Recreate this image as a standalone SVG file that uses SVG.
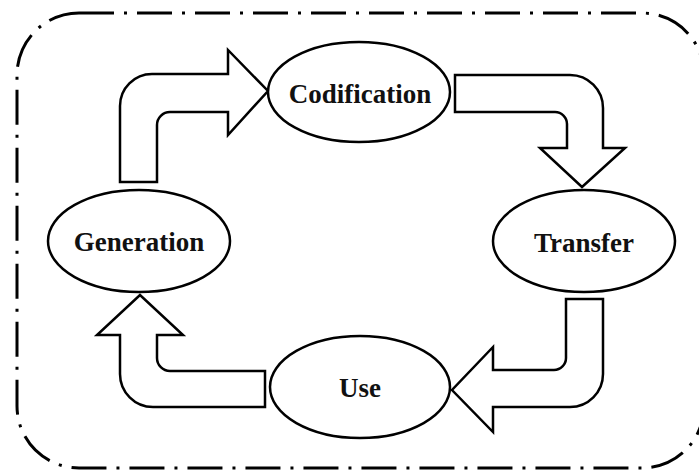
<svg xmlns="http://www.w3.org/2000/svg" width="699" height="471" viewBox="0 0 699 471">
<style>
.node ellipse{fill:#fff;stroke:#000;stroke-width:2.5}
.node text{font-family:"Liberation Serif","Times New Roman",serif;font-weight:bold;font-size:27px;text-anchor:middle;fill:#111}
.conn path{fill:#fff;stroke:#000;stroke-width:2.5;stroke-linejoin:miter}
.frame{fill:none;stroke:#000;stroke-width:3;stroke-dasharray:35 10 3 10}
</style>
<rect width="699" height="471" fill="#fff"/>
<rect class="frame" x="17" y="13" width="687" height="455" rx="62" ry="62"/>
<g class="conn" id="connectors">
<path d="M120,182 L120,106 A32,32 0 0 1 152,74 L228,74 L228,50 L268,91 L228,135 L228,112 L170,112 A13,13 0 0 0 157,125 L157,182 Z"/>
<path d="M455,75 L570,75 A33,33 0 0 1 603,108 L603,148 L625,148 L582,187 L540,148 L567,148 L567,124 A12,12 0 0 0 555,112 L455,112 Z"/>
<path d="M566,299 L603,299 L603,374 A33,33 0 0 1 570,407 L493,407 L493,432 L452,390 L493,347 L493,370 L554,370 A12,12 0 0 0 566,358 Z"/>
<path d="M265,371 L170,371 A13,13 0 0 1 157,358 L157,335 L183,335 L140,295 L97,335 L120,335 L120,374 A33,33 0 0 0 153,407 L265,407 Z"/>
</g>
<g class="node" id="codification"><ellipse cx="359" cy="92" rx="91" ry="50"/><text x="360" y="103">Codification</text></g>
<g class="node" id="generation"><ellipse cx="139" cy="241" rx="91" ry="51"/><text x="139" y="251">Generation</text></g>
<g class="node" id="transfer"><ellipse cx="584" cy="241" rx="91" ry="51"/><text x="584" y="252">Transfer</text></g>
<g class="node" id="use"><ellipse cx="360" cy="387" rx="90" ry="51"/><text x="360" y="397">Use</text></g>
</svg>
